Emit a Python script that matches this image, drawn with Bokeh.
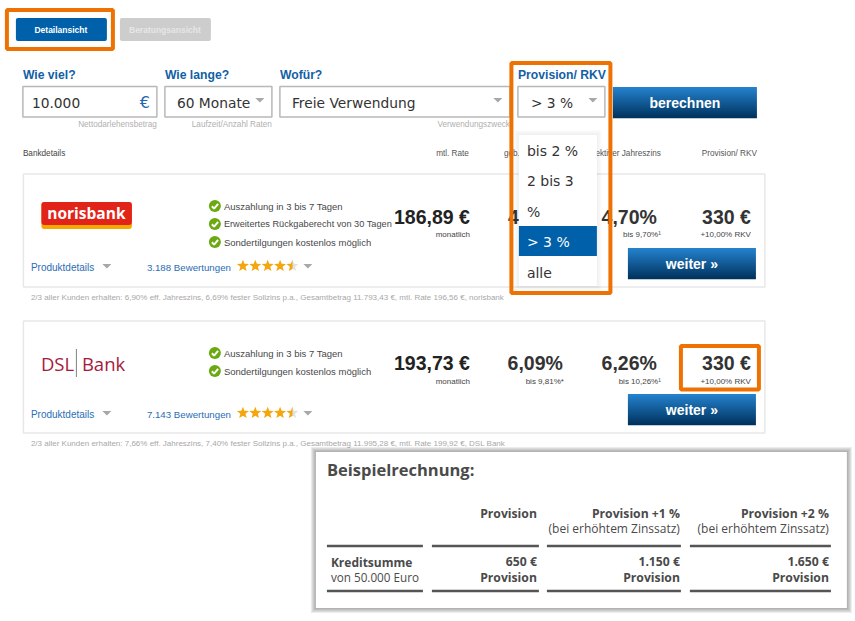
from bokeh.plotting import figure
from bokeh.models import Range1d
from bokeh.core.properties import value
from bokeh.embed import file_html
from bokeh.resources import INLINE
import math

# ---------- content ----------
view_buttons = ["Detailansicht", "Beratungsansicht"]
field_labels = ["Wie viel?", "Wie lange?", "Wofür?", "Provision/ RKV"]
field_values = ["10.000", "60 Monate", "Freie Verwendung", "> 3 %"]
field_hints = ["Nettodarlehensbetrag", "Laufzeit/Anzahl Raten", "Verwendungszweck"]
dropdown_items = ["bis 2 %", "2 bis 3", "%", "> 3 %", "alle"]
column_heads = ["mtl. Rate", "geb.", "ektiver Jahreszins", "Provision/ RKV"]

bank_names = ["norisbank", "DSL Bank"]
bank_features = [
    ["Auszahlung in 3 bis 7 Tagen", "Erweitertes Rückgaberecht von 30 Tagen", "Sondertilgungen kostenlos möglich"],
    ["Auszahlung in 3 bis 7 Tagen", "Sondertilgungen kostenlos möglich"],
]
rates = ["186,89 €", "193,73 €"]
sollzins = ["4", "6,09%"]
sollzins_max = ["", "bis 9,81%*"]
eff_zins = ["4,70%", "6,26%"]
eff_zins_max = ["bis 9,70%¹", "bis 10,26%¹"]
provision = ["330 €", "330 €"]
provision_rkv = ["+10,00% RKV", "+10,00% RKV"]
reviews = ["3.188 Bewertungen", "7.143 Bewertungen"]
star_rating = [4.5, 4.5]
footnotes = [
    "2/3 aller Kunden erhalten: 6,90% eff. Jahreszins, 6,69% fester Sollzins p.a., Gesamtbetrag 11.793,43 €, mtl. Rate 196,56 €, norisbank",
    "2/3 aller Kunden erhalten: 7,66% eff. Jahreszins, 7,40% fester Sollzins p.a., Gesamtbetrag 11.995,28 €, mtl. Rate 199,92 €, DSL Bank",
]

example_title = "Beispielrechnung:"
example_heads = ["Provision", "Provision +1 %", "Provision +2 %"]
example_sub = "(bei erhöhtem Zinssatz)"
example_row_head = ["Kreditsumme", "von 50.000 Euro"]
example_amounts = ["650 €", "1.150 €", "1.650 €"]
example_word = "Provision"

# ---------- palette ----------
ORANGE = "#ee7203"
BLUE = "#0060a9"
LINK = "#2a6db5"
DARK = "#2b2b2b"
HINT = "#b0b0b0"
ARIAL = "Liberation Sans"
SANS = "DejaVu Sans"
OPEN = "Open Sans"

p = figure(width=855, height=621, x_range=Range1d(0.6, 855.6), y_range=Range1d(621.5, 0.5),
           toolbar_location=None, output_backend="svg", min_border=0)
p.axis.visible = False
p.grid.visible = False
p.outline_line_color = None
p.min_border_left = p.min_border_right = p.min_border_top = p.min_border_bottom = 0


def box(x0, y0, x1, y1, fill="white", line=None, lw=1.0, alpha=1.0, radius=0):
    p.quad(left=[x0], right=[x1], top=[y0], bottom=[y1], fill_color=fill, fill_alpha=alpha,
           line_color=line, line_width=lw, border_radius=radius)


def label(x, y, s, size, color=DARK, bold=False, align="left", font=ARIAL):
    p.text([x], [y], text=[s], text_font=value(font), text_font_size=f"{size}px",
           text_color=color, text_font_style="bold" if bold else "normal",
           text_align=align, text_baseline="middle")


def arrow(x, y, color="#a8a8a8"):
    p.patch([x - 4.5, x + 4.5, x], [y - 2, y - 2, y + 2.5], fill_color=color, line_color=None)


def mix(a, b, t):
    return "#%02x%02x%02x" % tuple(round(a[i] + (b[i] - a[i]) * t) for i in range(3))


def gradient_button(x0, y0, x1, y1, s, size):
    top, bottom = (36, 130, 205), (0, 50, 94)
    n = int(y1 - y0)
    for i in range(n):
        box(x0, y0 + i, x1, y0 + i + 1.2, fill=mix(top, bottom, i / max(n - 1, 1)))
    label((x0 + x1) / 2, (y0 + y1) / 2, s, size, color="white", bold=True, align="center")


def frame(x0, y0, x1, y1):
    box(x0, y0, x1, y1, fill=None, line=ORANGE, lw=4)


def star_points(cx, cy, r):
    pts = []
    for k in range(10):
        rad = r if k % 2 == 0 else r * 0.42
        a = math.pi * k / 5
        pts.append((cx - rad * math.sin(a), cy - rad * math.cos(a)))
    return pts


def stars(x, y, rating):
    for i in range(5):
        cx = x + i * 12.4
        pts = star_points(cx, y, 6.3)
        fill = max(0.0, min(1.0, rating - i))
        if fill == 1:
            p.patch([q[0] for q in pts], [q[1] for q in pts], fill_color="#f4a60d", line_color=None)
        else:
            p.patch([q[0] for q in pts], [q[1] for q in pts], fill_color="#e2e2e2", line_color=None)
            if fill > 0:
                left = pts[:6]
                p.patch([q[0] for q in left], [q[1] for q in left], fill_color="#f4a60d", line_color=None)


def check(x, y, text):
    p.circle([x], [y], radius=6, fill_color="#6aa90f", line_color=None)
    p.line([x - 3, x - 0.8, x + 3.2], [y + 0.2, y + 2.6, y - 2.2], line_color="white", line_width=2)
    size = 9.2 if len(text) > 35 else 9.5
    label(x + 9, y, text, size, color="#484848")


# ---------- top: view switch ----------
box(16, 18, 107, 41, fill=BLUE, radius=2)
label(61, 29.5, view_buttons[0], 8.5, color="white", bold=True, align="center")
box(120, 18, 211, 41, fill="#cdcdcd", radius=2)
label(165, 29.5, view_buttons[1], 8.5, color="#e6e6e6", bold=True, align="center")

# ---------- form ----------
fields = [(23, 157, 32), (165, 272, 177), (280, 510, 292), (518, 605, 531)]
for (x0, x1, tx), lab, val in zip(fields, field_labels, field_values):
    label(x0, 75, lab, 12.2, color="#125fa6", bold=True)
    box(x0, 86.5, x1, 117, fill="white", line="#b8b8b8", lw=1.5)
    label(tx, 103, val, 13.8, color="#333333", font=SANS)
label(145, 102, "€", 16, color="#1f68b0", font=SANS, align="center")
for ax in (260, 498, 593):
    arrow(ax, 100)
label(157, 124, field_hints[0], 8.2, color=HINT, align="right")
label(272, 124, field_hints[1], 8.2, color=HINT, align="right")
label(510, 124, field_hints[2], 8.2, color=HINT, align="right")
gradient_button(613, 87, 757, 118, "berechnen", 14)

# ---------- column heads ----------
label(23, 153, "Bankdetails", 8.2, color="#444444")
label(469, 153, column_heads[0], 8.2, color="#555555", align="right")
label(504, 153, column_heads[1], 8.2, color="#555555")
label(661, 153, column_heads[2], 8.2, color="#555555", align="right")
label(757, 153, column_heads[3], 8.2, color="#555555", align="right")

# ---------- bank cards ----------
cards = [(174, 287), (321, 433)]
for b, (y0, y1) in enumerate(cards):
    mid = 217 if b == 0 else 363
    sub = 234 if b == 0 else 381
    btn = 248 if b == 0 else 394
    link = 267 if b == 0 else 414
    box(23.5, y0, 765, y1, fill="white", line="#e8e8e8", lw=1.5)

    if b == 0:
        box(41.5, 202, 132, 229, fill="#f5a800", radius=3)
        box(41.5, 202, 132, 225, fill="#e2231a", radius=3)
        label(86.5, 213, bank_names[0], 15.5, color="white", bold=True, align="center", font=OPEN)
    else:
        label(41, 363, "DSL", 18.5, color="#a6193c", font=OPEN)
        label(82, 363, "Bank", 18.5, color="#a6193c", font=OPEN)
        box(76, 349, 77, 377, fill="#808080")

    fy0 = 206 if b == 0 else 353
    for i, t in enumerate(bank_features[b]):
        check(215, fy0 + 18 * i, t)

    label(470, mid, rates[b], 19.5, bold=True, align="right", color="#222222")
    label(470, sub, "monatlich", 8, color="#444444", align="right")
    if b == 0:
        label(508, mid, sollzins[b], 19.5, bold=True, color="#333333")
    else:
        label(563, mid, sollzins[b], 19.5, bold=True, align="right", color="#333333")
        label(564, sub, sollzins_max[b], 8, color="#444444", align="right")
    label(657, mid, eff_zins[b], 19.5, bold=True, align="right", color="#333333")
    label(661, sub, eff_zins_max[b], 8, color="#444444", align="right")
    label(751, mid, provision[b], 19.5, bold=True, align="right", color="#333333")
    label(751, sub, provision_rkv[b], 8, color="#444444", align="right")

    gradient_button(628, btn, 756, btn + 31, "weiter »", 14)
    label(31, link, "Produktdetails", 10, color=LINK)
    arrow(107, link - 1)
    label(147, link, reviews[b], 9.7, color=LINK)
    stars(243, link - 1, star_rating[b])
    arrow(308, link - 1)
    label(31, y1 + 10.5, footnotes[b], 8, color="#a8a8a8")

# ---------- dropdown ----------
for i in range(6):
    box(519 - i, 135 - i, 597 + i, 286 + i, fill="#000000", alpha=0.012)
box(519, 135, 597, 286, fill="white")
box(519, 226, 597, 256, fill=BLUE)
for t, y, c in zip(dropdown_items, [151, 181, 212, 242, 273], ["#333333", "#333333", "#333333", "white", "#333333"]):
    label(527, y, t, 14, color=c, font=SANS)

# ---------- highlight frames ----------
frame(7, 10, 113, 49)
frame(511.5, 63, 610.5, 293)
frame(681, 346, 759, 389.5)

# ---------- example panel ----------
for i in range(5, 0, -1):
    box(316 - i, 452 - i, 847 + i, 608 + i, fill="#555555", alpha=0.11)
box(316, 452, 847, 608, fill="white")
TXT = "#4a4a4a"
label(327, 469, example_title, 16.5, color=TXT, bold=True, font=OPEN)
rights = [537, 680, 829]
for r, h, amt in zip(rights, example_heads, example_amounts):
    label(r, 513, h, 12.2, color=TXT, bold=True, align="right", font=OPEN)
    label(r, 561, amt, 12.2, color=TXT, bold=True, align="right", font=OPEN)
    label(r, 577, example_word, 12.2, color=TXT, bold=True, align="right", font=OPEN)
for r in rights[1:]:
    label(r, 528, example_sub, 12, color=TXT, align="right", font=OPEN)
label(331, 562, example_row_head[0], 12, color=TXT, bold=True, font=OPEN)
label(331, 577, example_row_head[1], 11.7, color=TXT, font=OPEN)
for x0, x1 in [(327, 423), (432, 539), (547, 681), (690, 831)]:
    for y in (546, 591):
        box(x0, y - 1.3, x1, y + 1.3, fill="#555555")

open("out.html", "w").write(file_html(p, INLINE))
